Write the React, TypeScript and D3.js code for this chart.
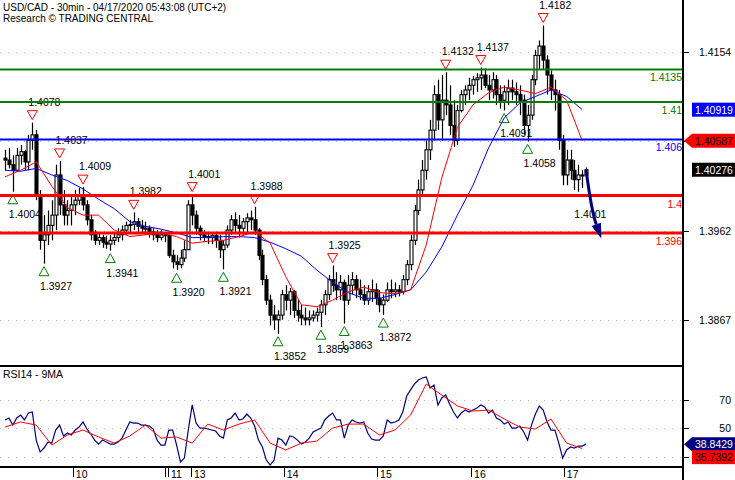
import React from 'react';
import * as d3 from 'd3';

const title = 'USD/CAD - 30min - 04/17/2020 05:43:08 (UTC+2)';
const subtitle = 'Research \u00A9 TRADING CENTRAL';
const rsiTitle = 'RSI14 - 9MA';

const firstOpen = 1.404;
const highs = [
  1.4049, 1.4051, 1.4043, 1.4051, 1.4054, 1.4049, 1.4065, 1.4078, 1.4070, 1.4006,
  1.3979, 1.3984, 1.3995, 1.4033, 1.4037, 1.4006, 1.3995, 1.4001, 1.4006, 1.4008,
  1.4009, 1.3995, 1.3979, 1.3963, 1.3961, 1.3958, 1.3957, 1.3958, 1.3961, 1.3965,
  1.3968, 1.3972, 1.3974, 1.3982, 1.3976, 1.3974, 1.3972, 1.3968, 1.3965, 1.3963,
  1.3963, 1.3961, 1.3958, 1.3942, 1.3936, 1.3942, 1.3952, 1.3995, 1.4001, 1.3984,
  1.3968, 1.3963, 1.3961, 1.3961, 1.3961, 1.3958, 1.3952, 1.3968, 1.3979, 1.3982,
  1.3979, 1.3976, 1.3981, 1.3984, 1.3988, 1.3965, 1.3942, 1.3915, 1.3894, 1.3883,
  1.3877, 1.3899, 1.3904, 1.3901, 1.3899, 1.3888, 1.3883, 1.3880, 1.3877, 1.3877,
  1.3880, 1.3888, 1.3899, 1.3915, 1.3925, 1.3918, 1.3915, 1.3910, 1.3915, 1.3918,
  1.3915, 1.3910, 1.3904, 1.3904, 1.3910, 1.3906, 1.3899, 1.3894, 1.3907, 1.3910,
  1.3907, 1.3904, 1.3915, 1.3931, 1.3958, 1.3990, 1.4017, 1.4038, 1.4059, 1.4081,
  1.4118, 1.4124, 1.4129, 1.4132, 1.4118, 1.4102, 1.4097, 1.4113, 1.4118, 1.4126,
  1.4128, 1.4131, 1.4137, 1.4136, 1.4129, 1.4132, 1.4129, 1.4118, 1.4118, 1.4124,
  1.4124, 1.4121, 1.4118, 1.4108, 1.4097, 1.4129, 1.4156, 1.4166, 1.4182, 1.4150,
  1.4134, 1.4124, 1.4113, 1.4065, 1.4049, 1.4049, 1.4038, 1.4033, 1.4027, 1.4030,
];
const lows = [
  1.4027, 1.4029, 1.4004, 1.4027, 1.4033, 1.4027, 1.4027, 1.4049, 1.3995, 1.3942,
  1.3927, 1.3947, 1.3952, 1.3963, 1.3979, 1.3968, 1.3968, 1.3968, 1.3979, 1.3990,
  1.3984, 1.3968, 1.3952, 1.3947, 1.3947, 1.3944, 1.3943, 1.3941, 1.3947, 1.3950,
  1.3952, 1.3958, 1.3961, 1.3963, 1.3961, 1.3961, 1.3958, 1.3955, 1.3952, 1.3950,
  1.3952, 1.3950, 1.3933, 1.3922, 1.3920, 1.3922, 1.3929, 1.3942, 1.3968, 1.3958,
  1.3952, 1.3950, 1.3948, 1.3948, 1.3944, 1.3933, 1.3921, 1.3944, 1.3958, 1.3961,
  1.3955, 1.3958, 1.3961, 1.3963, 1.3958, 1.3931, 1.3904, 1.3883, 1.3861, 1.3856,
  1.3852, 1.3867, 1.3877, 1.3872, 1.3869, 1.3865, 1.3861, 1.3861, 1.3861, 1.3865,
  1.3865, 1.3859, 1.3872, 1.3888, 1.3897, 1.3888, 1.3888, 1.3863, 1.3883, 1.3894,
  1.3890, 1.3888, 1.3883, 1.3883, 1.3886, 1.3883, 1.3875, 1.3872, 1.3886, 1.3890,
  1.3891, 1.3892, 1.3894, 1.3904, 1.3920, 1.3947, 1.3979, 1.4001, 1.4017, 1.4038,
  1.4059, 1.4070, 1.4059, 1.4086, 1.4065, 1.4052, 1.4054, 1.4089, 1.4097, 1.4102,
  1.4108, 1.4111, 1.4113, 1.4115, 1.4102, 1.4104, 1.4097, 1.4093, 1.4091, 1.4097,
  1.4102, 1.4097, 1.4086, 1.4065, 1.4058, 1.4081, 1.4118, 1.4135, 1.4135, 1.4108,
  1.4102, 1.4091, 1.4049, 1.4011, 1.4011, 1.4017, 1.4006, 1.4004, 1.4008, 1.4017,
];
const closes = [
  1.4038, 1.4033, 1.4027, 1.4043, 1.4047, 1.4036, 1.4059, 1.4065, 1.4001, 1.3952,
  1.3958, 1.3968, 1.3979, 1.4022, 1.3990, 1.3979, 1.3984, 1.3990, 1.3995, 1.4001,
  1.3990, 1.3974, 1.3958, 1.3952, 1.3955, 1.3950, 1.3948, 1.3952, 1.3955, 1.3958,
  1.3963, 1.3968, 1.3969, 1.3972, 1.3967, 1.3965, 1.3965, 1.3961, 1.3958, 1.3955,
  1.3958, 1.3957, 1.3936, 1.3929, 1.3926, 1.3933, 1.3942, 1.3990, 1.3979, 1.3965,
  1.3958, 1.3956, 1.3955, 1.3957, 1.3952, 1.3942, 1.3947, 1.3963, 1.3974, 1.3968,
  1.3965, 1.3972, 1.3976, 1.3974, 1.3963, 1.3936, 1.3910, 1.3888, 1.3872, 1.3867,
  1.3872, 1.3894, 1.3888, 1.3897, 1.3877, 1.3872, 1.3869, 1.3867, 1.3869, 1.3872,
  1.3875, 1.3883, 1.3894, 1.3910, 1.3904, 1.3899, 1.3907, 1.3888, 1.3904, 1.3910,
  1.3899, 1.3894, 1.3888, 1.3897, 1.3899, 1.3890, 1.3883, 1.3888, 1.3899, 1.3897,
  1.3899, 1.3897, 1.3910, 1.3926, 1.3952, 1.3984, 1.4006, 1.4027, 1.4049, 1.4070,
  1.4108, 1.4081, 1.4102, 1.4097, 1.4075, 1.4059, 1.4091, 1.4108, 1.4113, 1.4118,
  1.4124, 1.4126, 1.4129, 1.4118, 1.4113, 1.4124, 1.4108, 1.4102, 1.4111, 1.4115,
  1.4111, 1.4108, 1.4102, 1.4075, 1.4086, 1.4124, 1.4150, 1.4160, 1.4145, 1.4129,
  1.4113, 1.4108, 1.4059, 1.4022, 1.4038, 1.4027, 1.4017, 1.4022, 1.4022, 1.40276,
];

const maIdx = [0, 4, 8, 12, 16, 20, 24, 28, 32, 36, 40, 44, 48, 52, 56, 60, 64, 68, 72, 76,
  80, 84, 88, 92, 96, 100, 104, 108, 112, 116, 120, 124, 128, 132, 136, 140, 144, 148];
const redMA = [1.4020, 1.4027, 1.4036, 1.4010, 1.3987, 1.3979, 1.3979, 1.3963, 1.3956, 1.3958,
  1.3960, 1.3956, 1.3949, 1.3951, 1.3952, 1.3956, 1.3961, 1.3949, 1.3913, 1.3883,
  1.3881, 1.3888, 1.3897, 1.3902, 1.3896, 1.3895, 1.3899, 1.3947, 1.4019, 1.4073,
  1.4097, 1.4110, 1.4116, 1.4113, 1.4109, 1.4116, 1.4102, 1.40587];
const blueMA = [1.4027, 1.4026, 1.4029, 1.4022, 1.4016, 1.4007, 1.3996, 1.3986, 1.3972, 1.3967,
  1.3964, 1.3960, 1.3955, 1.3955, 1.3956, 1.3956, 1.3955, 1.3950, 1.3943, 1.3935,
  1.3920, 1.3907, 1.3896, 1.3890, 1.3890, 1.3894, 1.3899, 1.3918, 1.3945, 1.3979,
  1.4011, 1.4051, 1.4083, 1.4099, 1.4106, 1.4113, 1.4106, 1.40919];

const rsi = [
  55.9, 57.3, 52.3, 57.3, 59.4, 55.9, 60.8, 61.5, 41.7, 33.3,
  36.1, 40.3, 39.6, 48.8, 52.3, 44.6, 46.7, 45.3, 48.8, 50.9,
  54.5, 49.5, 46.0, 41.7, 38.9, 41.7, 40.3, 38.9, 38.9, 40.3,
  43.1, 48.8, 54.5, 53.7, 53.7, 52.3, 52.3, 51.6, 49.5, 41.7,
  38.2, 38.2, 48.8, 48.8, 38.2, 26.2, 29.0, 48.8, 66.5, 53.7,
  50.2, 50.2, 49.5, 48.8, 48.1, 44.6, 43.1, 55.9, 57.3, 60.8,
  55.9, 56.6, 60.1, 57.3, 51.6, 41.7, 36.8, 27.6, 24.1, 27.6,
  43.1, 41.7, 38.2, 44.6, 43.9, 41.7, 38.9, 40.3, 43.1, 47.4,
  48.8, 50.2, 55.9, 58.7, 60.8, 55.9, 55.9, 43.1, 52.3, 55.9,
  54.5, 53.7, 54.5, 46.7, 42.4, 41.7, 41.7, 44.6, 55.9, 53.7,
  54.5, 55.9, 61.5, 72.8, 77.1, 81.3, 84.1, 85.5, 86.3, 78.5,
  80.6, 66.5, 71.4, 73.5, 67.2, 61.5, 57.3, 60.8, 62.9, 61.5,
  62.9, 64.3, 66.5, 65.1, 60.8, 62.9, 57.3, 55.9, 53.0, 54.5,
  50.2, 50.2, 51.6, 47.4, 41.7, 52.3, 60.1, 65.8, 62.9, 54.5,
  48.8, 48.8, 39.6, 29.0, 34.7, 36.8, 36.1, 37.5, 37.5, 38.8429,
];
const rsiMA = [50.9, 54.5, 52.3, 38.2, 45.3, 48.8, 43.9, 39.6, 44.6, 52.3,
  43.1, 43.9, 39.6, 53.0, 48.8, 53.0, 55.9, 39.6, 34.7, 39.6,
  41.0, 50.2, 53.0, 53.0, 45.3, 48.8, 59.4, 81.3, 73.5, 65.8,
  62.2, 62.9, 56.6, 50.9, 49.5, 56.6, 39.6, 35.7392];

const highMarkIdx = [7, 14, 20, 33, 48, 64, 84, 113, 122, 138];
const highMarkLabels = ['1.4078', '1.4037', '1.4009', '1.3982', '1.4001', '1.3988', '1.3925', '1.4132', '1.4137', '1.4182'];
const lowMarkIdx = [2, 10, 27, 44, 56, 70, 81, 87, 97, 128, 134];
const lowMarkLabels = ['1.4004', '1.3927', '1.3941', '1.3920', '1.3921', '1.3852', '1.3859', '1.3863', '1.3872', '1.4091', '1.4058'];

const levels = [1.4135, 1.41, 1.406, 1.4, 1.396];
const levelLabels = ['1.4135', '1.41', '1.406', '1.4', '1.396'];
const levelColors = ['#008000', '#008000', '#0000ff', '#ff0000', '#ff0000'];
const levelWidths = [2, 2, 2, 3, 3];

const priceTicks = [1.4154, 1.4058, 1.3962, 1.3867];
const priceTickLabels = ['1.4154', '', '1.3962', '1.3867'];
const rsiTicks = [70, 50, 30];
const rsiTickLabels = ['70', '50', ''];

const dayIdx = [17.4, 41.8, 47.7, 71.5, 95.4, 119.5, 143.3];
const dayLabels = ['10', '11', '13', '14', '15', '16', '17'];
const sessionBreakIdx = [41.3];

const forecastIdx = 152.9;
const forecastPrice = 1.3954;
const forecastLabel = '1.4001';

const FONT = '"Liberation Sans", Arial, sans-serif';
const FS = 10.5;

export default function App() {
  const W = 735, H = 480;
  const plotR = 683;
  const mainTop = 0, mainBot = 366, rsiBot = 467;
  const x = d3.scaleLinear().domain([0, 149]).range([5, 586.1]);
  const y = d3.scaleLinear().domain([1.38175, 1.42093]).range([mainBot, mainTop]);
  const ry = d3.scaleLinear().domain([22.7, 94]).range([rsiBot, mainBot]);

  const maLine = d3.line<number>().x((_, i) => x(maIdx[i])).y((d) => y(d));
  const rsiLine = d3.line<number>().x((_, i) => x(i)).y((d) => ry(d));
  const rsiMaLine = d3.line<number>().x((_, i) => x(maIdx[i])).y((d) => ry(d));

  const n = closes.length;
  const candles = closes.map((c, i) => {
    const o = i === 0 ? firstOpen : closes[i - 1];
    const hi = Math.max(highs[i], o, c);
    const lo = Math.min(lows[i], o, c);
    const cx = Math.round(x(i));
    const yt = y(Math.max(o, c));
    const yb = y(Math.min(o, c));
    const up = c >= o;
    return (
      <g key={'c' + i}>
        <line x1={cx + 0.5} x2={cx + 0.5} y1={y(hi)} y2={y(lo)} stroke="#000" strokeWidth={1.2} />
        <rect x={cx - 1} y={yt} width={3} height={Math.max(1, yb - yt)}
          fill={up ? '#fff' : '#000'} stroke="#000" strokeWidth={1.1} />
      </g>
    );
  });

  // forecast arrow
  const sx = x(n - 1), sy = y(closes[n - 1]);
  const ex = x(forecastIdx), ey = y(forecastPrice);
  const qx = sx + (ex - sx) * 0.35, qy = sy + (ey - sy) * 0.6;
  const ang = Math.atan2(ey - qy, ex - qx);
  const hl = 15, hw = 5;
  const bx = ex - hl * Math.cos(ang), by = ey - hl * Math.sin(ang);
  const head = [
    [ex, ey],
    [bx + hw * Math.sin(ang), by - hw * Math.cos(ang)],
    [bx - hw * Math.sin(ang), by + hw * Math.cos(ang)],
  ].map((p) => p.join(',')).join(' ');

  const tag = (cy: number, text: string, fill: string, color: string, pointer: boolean, key: string) => {
    const h = 14;
    const top = cy - h / 2;
    return (
      <g key={key}>
        {pointer ? (
          <polygon points={`${plotR + 1},${cy} ${692},${top} ${735},${top} ${735},${top + h} ${692},${top + h}`} fill={fill} />
        ) : (
          <rect x={692} y={top} width={43} height={h} fill={fill} />
        )}
        <text x={695} y={cy + 4} fill={color} fontSize={FS} fontFamily={FONT}>{text}</text>
      </g>
    );
  };

  const lastBlue = blueMA[blueMA.length - 1];
  const lastRed = redMA[redMA.length - 1];
  const lastClose = closes[n - 1];
  const lastRsi = rsi[n - 1];
  const lastRsiMa = rsiMA[rsiMA.length - 1];
  const rsiTagY = ry(lastRsi);

  return (
    <svg width={W} height={H} style={{ position: 'absolute', left: 0, top: 0, background: '#fff' }}
      fontFamily={FONT}>
      <rect x={0} y={0} width={W} height={H} fill="#fff" />
      {/* grid */}
      {priceTicks.map((p, i) => (
        <line key={'g' + i} x1={0} x2={plotR} y1={Math.round(y(p)) + 0.5} y2={Math.round(y(p)) + 0.5}
          stroke="#b4b4b4" strokeDasharray="1 7" />
      ))}
      {rsiTicks.map((v, i) => (
        <line key={'rg' + i} x1={0} x2={plotR} y1={Math.round(ry(v)) + 0.5} y2={Math.round(ry(v)) + 0.5}
          stroke="#b4b4b4" strokeDasharray="1 7" />
      ))}
      <text x={3} y={11} fontSize={10} fill="#000">{title}</text>
      <text x={3} y={22} fontSize={10} fill="#000">{subtitle}</text>

      {/* markers */}
      {highMarkIdx.map((idx, k) => {
        const cx = x(idx);
        const bot = y(highs[idx]) - 3;
        const top = bot - 9;
        return (
          <g key={'hm' + k}>
            <polygon points={`${cx - 5},${top} ${cx + 5},${top} ${cx},${bot}`} fill="#fff" stroke="#ff0000" strokeWidth={1} />
            <text x={cx - 4} y={top - 5} fontSize={FS} fill="#000">{highMarkLabels[k]}</text>
          </g>
        );
      })}
      {lowMarkIdx.map((idx, k) => {
        const cx = x(idx);
        const top = y(lows[idx]) + 3;
        const bot = top + 9;
        return (
          <g key={'lm' + k}>
            <polygon points={`${cx - 5},${bot} ${cx + 5},${bot} ${cx},${top}`} fill="#fff" stroke="#008000" strokeWidth={1} />
            <text x={cx - 4} y={bot + 14} fontSize={FS} fill="#000">{lowMarkLabels[k]}</text>
          </g>
        );
      })}

      {candles}

      <path d={maLine(blueMA) || ''} fill="none" stroke="#0000ff" strokeWidth={1} />
      <path d={maLine(redMA) || ''} fill="none" stroke="#ff0000" strokeWidth={1} />

      {levels.map((p, i) => (
        <g key={'lv' + i}>
          <line x1={0} x2={plotR} y1={y(p)} y2={y(p)} stroke={levelColors[i]} strokeWidth={levelWidths[i]} />
          <text x={plotR - 1} y={y(p) + 12} textAnchor="end" fontSize={FS} fill={levelColors[i]}>{levelLabels[i]}</text>
        </g>
      ))}

      <path d={`M${sx},${sy} Q${qx},${qy} ${bx},${by}`} fill="none" stroke="#000080" strokeWidth={3} />
      <polygon points={head} fill="#000080" />
      <text x={ex - 27} y={ey - 20} fontSize={FS} fill="#000">{forecastLabel}</text>

      {/* RSI */}
      <path d={rsiLine(rsi) || ''} fill="none" stroke="#000080" strokeWidth={1.2} />
      <path d={rsiMaLine(rsiMA) || ''} fill="none" stroke="#ff0000" strokeWidth={1} />
      <text x={3} y={378} fontSize={FS} fill="#000">{rsiTitle}</text>

      {/* frames */}
      <line x1={0} x2={plotR} y1={mainBot} y2={mainBot} stroke="#000" strokeWidth={2} />
      <line x1={0} x2={plotR} y1={rsiBot} y2={rsiBot} stroke="#000" strokeWidth={2} />
      <line x1={plotR} x2={plotR} y1={0} y2={H} stroke="#000" strokeWidth={2} />

      {priceTicks.map((p, i) => (
        <g key={'pt' + i}>
          <line x1={plotR} x2={plotR + 6} y1={Math.round(y(p)) + 0.5} y2={Math.round(y(p)) + 0.5} stroke="#000" />
          {priceTickLabels[i] ? (
            <text x={699} y={y(p) + 4} fontSize={FS} fill="#000">{priceTickLabels[i]}</text>
          ) : null}
        </g>
      ))}
      {rsiTicks.map((v, i) => (
        <g key={'rt' + i}>
          <line x1={plotR} x2={plotR + 6} y1={Math.round(ry(v)) + 0.5} y2={Math.round(ry(v)) + 0.5} stroke="#000" />
          {rsiTickLabels[i] ? (
            <text x={731} y={ry(v) + 4} textAnchor="end" fontSize={FS} fill="#000">{rsiTickLabels[i]}</text>
          ) : null}
        </g>
      ))}

      {tag(y(lastBlue), lastBlue.toFixed(5), '#0000ff', '#fff', false, 't1')}
      {tag(y(lastRed), lastRed.toFixed(5), '#ff0000', '#000', true, 't2')}
      {tag(y(lastClose), lastClose.toFixed(5), '#000', '#fff', false, 't3')}
      {tag(rsiTagY, lastRsi.toFixed(4), '#000080', '#fff', true, 't4')}
      {tag(rsiTagY + 13, lastRsiMa.toFixed(4), '#ff0000', '#000', false, 't5')}

      {dayIdx.map((d, i) => (
        <g key={'d' + i}>
          <line x1={Math.round(x(d)) + 0.5} x2={Math.round(x(d)) + 0.5} y1={rsiBot} y2={rsiBot + 10} stroke="#000" />
          <text x={x(d) + 3} y={478} fontSize={FS} fill="#000">{dayLabels[i]}</text>
        </g>
      ))}
      {sessionBreakIdx.map((d, i) => (
        <line key={'sb' + i} x1={Math.round(x(d)) - 0.5} x2={Math.round(x(d)) - 0.5} y1={rsiBot} y2={rsiBot + 10} stroke="#000" />
      ))}
    </svg>
  );
}
